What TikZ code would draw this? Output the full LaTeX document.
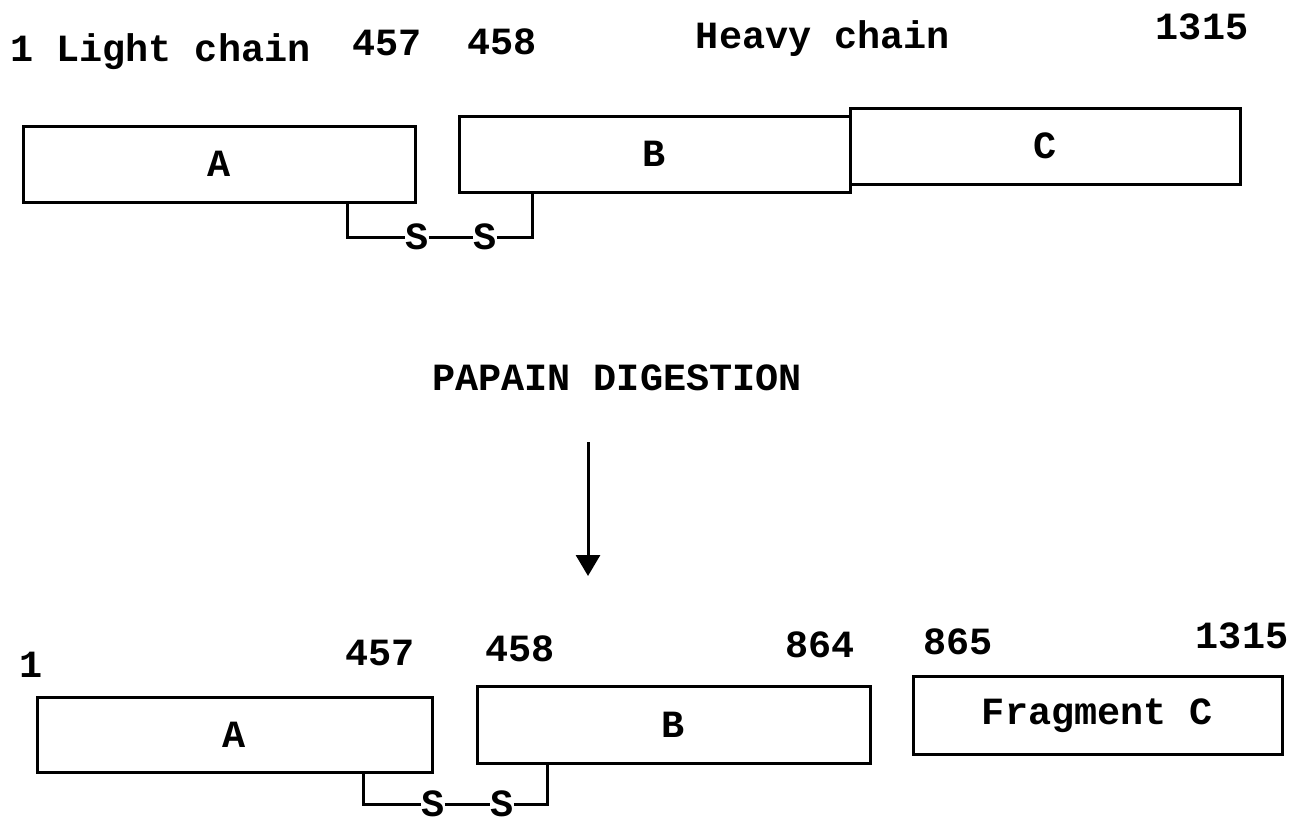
\documentclass[tikz,border=0pt]{standalone}
\usepackage{fontspec}
\setmonofont{Liberation Mono}
\usetikzlibrary{arrows.meta}
\newcommand{\figfont}{\ttfamily\bfseries\fontsize{38.5}{42}\selectfont}
\tikzset{
  seg/.style={draw, line width=3pt, rectangle, inner sep=0pt, font=\figfont},
  lbl/.style={inner sep=0pt, anchor=base, font=\figfont},
  bond/.style={line width=3pt},
  sss/.style={inner sep=0pt, font=\figfont}
}
\begin{document}
\begin{tikzpicture}[x=1pt,y=-1pt]
\useasboundingbox (0,0) rectangle (1299,825);
% top row labels
\node[lbl, anchor=base west] (t1) at (10,61) {1 Light chain};
\node[lbl] (t457) at (387,55) {457};
\node[lbl] (t458) at (502,54) {458};
\node[lbl] (theavy) at (823,48) {Heavy chain};
\node[lbl] (t1315) at (1202,39) {1315};
% top row boxes
\node[seg, minimum width=392pt, minimum height=76pt] (A) at (219,164) {A};
\node[seg, minimum width=391pt, minimum height=76pt] (B) at (654.5,154) {B};
\node[seg, minimum width=390pt, minimum height=76pt] (C) at (1045,146) {C};
% top S-S
\node[sss] (s1) at (417,237) {S};
\node[sss] (s2) at (485,237) {S};
\draw[bond] ([xshift=128pt]A.south) |- (s1.west);
\draw[bond] (s1.east) -- (s2.west);
\draw[bond] (s2.east) -| ([xshift=-122.5pt]B.south);
% digestion
\node[lbl] (pd) at (617,390) {PAPAIN DIGESTION};
\coordinate (ar1) at (588,442);
\coordinate (ar2) at (588,576);
\draw[line width=3pt, -{Triangle[width=24pt,length=21pt]}] (ar1) -- (ar2);
% bottom labels
\node[lbl] (b1) at (31,677) {1};
\node[lbl] (b457) at (380,665) {457};
\node[lbl] (b458) at (520,661) {458};
\node[lbl] (b864) at (820,657) {864};
\node[lbl] (b865) at (958,654) {865};
\node[lbl] (b1315) at (1242,648) {1315};
% bottom boxes
\node[seg, minimum width=395pt, minimum height=75pt] (A2) at (234.5,734.5) {A};
\node[seg, minimum width=393pt, minimum height=77pt] (B2) at (673.5,725) {B};
\node[seg, minimum width=369pt, minimum height=78pt] (C2) at (1097.5,715.5) {Fragment C};
% bottom S-S
\node[sss] (s3) at (433,804) {S};
\node[sss] (s4) at (502,804) {S};
\draw[bond] ([xshift=128.5pt]A2.south) |- (s3.west);
\draw[bond] (s3.east) -- (s4.west);
\draw[bond] (s4.east) -| ([xshift=-126.5pt]B2.south);
\end{tikzpicture}
\end{document}
